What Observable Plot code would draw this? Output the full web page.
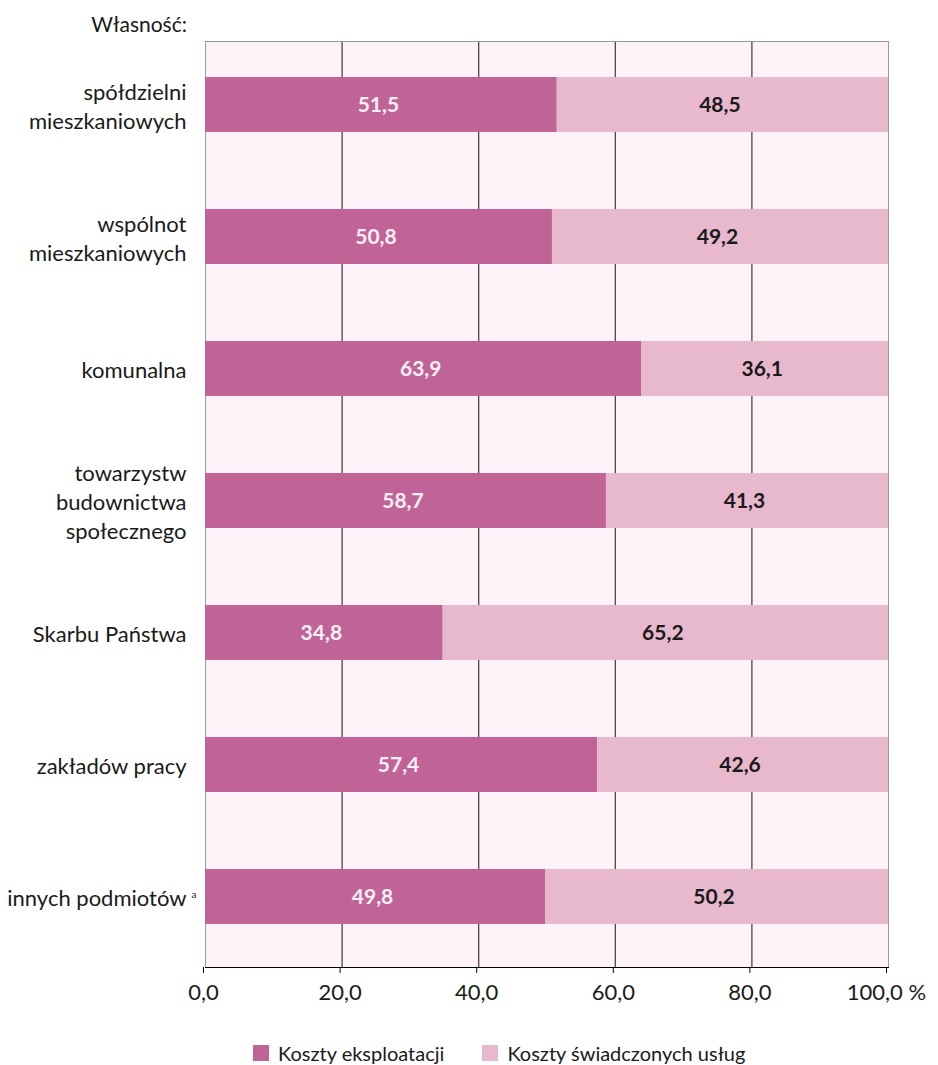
<!DOCTYPE html>
<html>
<head>
<meta charset="utf-8">
<script src="https://cdn.jsdelivr.net/npm/d3@7"></script>
<script src="https://cdn.jsdelivr.net/npm/@observablehq/plot@0.6"></script>
<style>
  html, body { margin: 0; padding: 0; background: #fff; }
  #page { position: relative; width: 938px; height: 1065px; font-family: Lato, "Open Sans", sans-serif; color: #1a1a1a; }
  #head { position: absolute; left: 0; top: 12px; width: 187px; text-align: right; font-size: 21px; line-height: 24px; }
  #chart { position: absolute; left: 0; top: 39px; }
  #legend { position: absolute; left: 253px; top: 1041px; display: flex; align-items: center; font-size: 20px; line-height: 24px; }
  .item { display: flex; align-items: center; margin-right: 38px; }
  .sw { width: 16px; height: 16px; margin-right: 9px; }
</style>
</head>
<body>
<div id="page">
  <div id="head">Własność:</div>
  <div id="chart"></div>
  <div id="legend"></div>
</div>
<script>
// Ownership categories (top to bottom)
const categories = [
  "spółdzielni\nmieszkaniowych",
  "wspólnot\nmieszkaniowych",
  "komunalna",
  "towarzystw\nbudownictwa\nspołecznego",
  "Skarbu Państwa",
  "zakładów pracy",
  "innych podmiotów"
];
// Share of costs, in %
const kosztyEksploatacji = [51.5, 50.8, 63.9, 58.7, 34.8, 57.4, 49.8];
const kosztyUslug = [48.5, 49.2, 36.1, 41.3, 65.2, 42.6, 50.2];
const seriesNames = ["Koszty eksploatacji", "Koszty świadczonych usług"];
const seriesColors = ["#c06497", "#e8b8cd"];
const xTicks = [0, 20, 40, 60, 80, 100];

const fmt = v => v.toFixed(1).replace(".", ",");
const tickFmt = v => v === 100 ? "100,0 %" : fmt(v);

// Long-format rows; "start" is the cumulative offset of each segment
const rows = [];
categories.forEach((cat, i) => {
  const vals = [kosztyEksploatacji[i], kosztyUslug[i]];
  let start = 0;
  vals.forEach((v, j) => {
    rows.push({cat, series: seriesNames[j], value: v, start});
    start += v;
  });
});
const mid = d => d.start + d.value / 2;

const chart = Plot.plot({
  width: 938,
  height: 973,
  marginLeft: 205,
  marginRight: 50,
  marginTop: 2,
  marginBottom: 45,
  style: {fontFamily: "Lato, 'Open Sans', sans-serif", fontSize: "22px", color: "#1a1a1a", background: "transparent"},
  x: {domain: [0, 100], ticks: xTicks, tickFormat: tickFmt},
  y: {domain: categories, paddingInner: 0.585, paddingOuter: 0.287, align: 0.46},
  color: {domain: seriesNames, range: seriesColors},
  marks: [
    Plot.frame({fill: "#fcf2f7", stroke: null}),
    Plot.gridX(xTicks.slice(1, -1), {stroke: "#3a3a3a", strokeOpacity: 1, strokeWidth: 1.2}),
    Plot.frame({stroke: "#9a9a9a", fill: null}),
    Plot.barX(rows, {x: "value", y: "cat", fill: "series"}),
    Plot.text(rows.filter(d => d.series === seriesNames[0]), {
      x: mid, y: "cat", text: d => fmt(d.value), fill: "#fbeef5",
      fontWeight: "bold", fontSize: 21, dx: -3
    }),
    Plot.text(rows.filter(d => d.series === seriesNames[1]), {
      x: mid, y: "cat", text: d => fmt(d.value), fill: "#1a1a1a",
      fontWeight: "bold", fontSize: 21, dx: -3
    }),
    Plot.frame({anchor: "bottom", stroke: "#000"}),
    Plot.axisX({ticks: xTicks, tickFormat: tickFmt, tickSize: 6, tickPadding: 11, stroke: "#000", fill: "#1a1a1a", label: null, dx: -2}),
    Plot.axisY({tickSize: 0, tickPadding: 19, label: null, lineHeight: 1.32, fill: "#1a1a1a"})
  ]
});

// Footnote marker on the last category label
chart.querySelectorAll("text").forEach(t => {
  if (t.textContent === "innych podmiotów") {
    const sup = document.createElementNS("http://www.w3.org/2000/svg", "tspan");
    sup.textContent = "a";
    sup.setAttribute("font-size", "10");
    sup.setAttribute("dx", "5");
    sup.setAttribute("dy", "-8");
    t.appendChild(sup);
    t.setAttribute("transform", (t.getAttribute("transform") || "") + " translate(10,0)");
  }
});

document.getElementById("chart").appendChild(chart);

// Legend
const legend = document.getElementById("legend");
seriesNames.forEach((name, i) => {
  const item = document.createElement("div");
  item.className = "item";
  const sw = document.createElement("span");
  sw.className = "sw";
  sw.style.background = seriesColors[i];
  const label = document.createElement("span");
  label.textContent = name;
  item.appendChild(sw);
  item.appendChild(label);
  legend.appendChild(item);
});
</script>
</body>
</html>
